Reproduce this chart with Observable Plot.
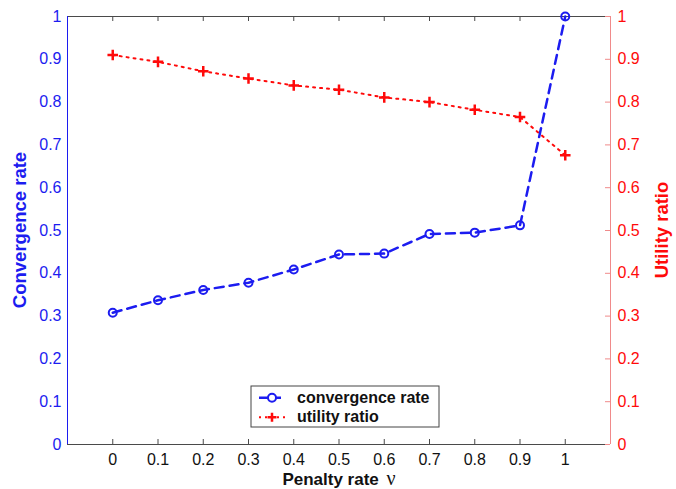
<!DOCTYPE html>
<html><head><meta charset="utf-8">
<script src="https://cdn.jsdelivr.net/npm/d3@7"></script>
<script src="https://cdn.jsdelivr.net/npm/@observablehq/plot@0.6"></script>
<style>body{margin:0;background:#fff;} #chart{width:676px;height:489px;}</style>
</head><body><div id="chart"></div>
<script>
const penalty = [0, 0.1, 0.2, 0.3, 0.4, 0.5, 0.6, 0.7, 0.8, 0.9, 1];
const convergence = [0.308, 0.337, 0.361, 0.378, 0.409, 0.444, 0.446, 0.492, 0.495, 0.512, 1.0];
const utility = [0.910, 0.894, 0.872, 0.855, 0.839, 0.829, 0.811, 0.800, 0.782, 0.765, 0.676];
const xTicks = [0, 0.1, 0.2, 0.3, 0.4, 0.5, 0.6, 0.7, 0.8, 0.9, 1];
const yTicks = [0, 0.1, 0.2, 0.3, 0.4, 0.5, 0.6, 0.7, 0.8, 0.9, 1];
const seriesNames = ["convergence rate", "utility ratio"];
const xLabel = "Penalty rate ";
const xLabelSymbol = "ν";
const yLeftLabel = "Convergence rate";
const yRightLabel = "Utility ratio";

const BLUE = "#1c1cf0", RED = "#ff0a0a", PINK = "#f08a8a", GRAY = "#4a4a4a";
const W = 676, H = 489, mL = 67, mR = 66, mT = 16, mB = 45;
const xDom = [-0.1, 1.1], yDom = [0, 1];
const tickPx = 5;
const tx = tickPx / (H - mT - mB) * (yDom[1] - yDom[0]);
const ty = tickPx / (W - mL - mR) * (xDom[1] - xDom[0]);

const conv = penalty.map((p, i) => ({p, v: convergence[i]}));
const util = penalty.map((p, i) => ({p, v: utility[i]}));
const fmt = d => String(d);
const font = "'Liberation Sans', Arial, sans-serif";

const plot = Plot.plot({
  width: W, height: H, marginLeft: mL, marginRight: mR, marginTop: mT, marginBottom: mB,
  style: {fontFamily: font, fontSize: "16px", background: "#fff", overflow: "visible"},
  x: {domain: xDom, axis: null},
  y: {domain: yDom, axis: null},
  marks: [
    Plot.ruleY([yDom[1]], {stroke: GRAY}),
    Plot.ruleY([yDom[0]], {stroke: GRAY}),
    Plot.ruleX([xDom[0]], {stroke: BLUE}),
    Plot.ruleX([xDom[1]], {stroke: PINK}),
    Plot.ruleX(xTicks, {x: d => d, y1: yDom[0], y2: yDom[0] + tx, stroke: GRAY}),
    Plot.ruleX(xTicks, {x: d => d, y1: yDom[1] - tx, y2: yDom[1], stroke: GRAY}),
    Plot.ruleY(yTicks, {y: d => d, x1: xDom[1] - ty, x2: xDom[1], stroke: PINK}),
    Plot.axisX({ticks: xTicks, tickSize: 0, tickPadding: 9, tickFormat: fmt, fontSize: 16, color: "#111", label: null}),
    Plot.axisY({anchor: "left", ticks: yTicks, tickSize: 0, tickPadding: 6, tickFormat: fmt, fontSize: 16, color: BLUE, label: null}),
    Plot.axisY({anchor: "right", ticks: yTicks, tickSize: 0, tickPadding: 7, tickFormat: fmt, fontSize: 16, color: RED, label: null}),
    Plot.line(util, {x: "p", y: "v", stroke: RED, strokeWidth: 2, strokeDasharray: "2,5"}),
    Plot.dot(util, {x: "p", y: "v", symbol: "plus", r: 3.5, stroke: RED, strokeWidth: 2.5}),
    Plot.line(conv, {x: "p", y: "v", stroke: BLUE, strokeWidth: 2.5, strokeDasharray: "9,6"}),
    Plot.dot(conv, {x: "p", y: "v", r: 4, stroke: BLUE, strokeWidth: 2, fill: "none"})
  ]
});
document.getElementById("chart").appendChild(plot);

const svg = d3.select(plot);
// axis titles
const xt = svg.append("text").attr("x", 339).attr("y", 485).attr("text-anchor", "middle")
  .attr("font-family", font).attr("font-weight", "bold").attr("font-size", 17).attr("fill", "#111");
xt.append("tspan").text(xLabel);
xt.append("tspan").attr("dx", 3).attr("font-family", "'Liberation Serif', 'Times New Roman', serif").attr("font-weight", "normal").attr("font-size", 20).text(xLabelSymbol);
svg.append("text").attr("transform", "translate(26,230) rotate(-90)").attr("text-anchor", "middle")
  .attr("font-family", font).attr("font-weight", "bold").attr("font-size", 18.5).attr("fill", BLUE).text(yLeftLabel);
svg.append("text").attr("transform", "translate(668,230) rotate(-90)").attr("text-anchor", "middle")
  .attr("font-family", font).attr("font-weight", "bold").attr("font-size", 18.5).attr("fill", RED).text(yRightLabel);

// legend
const lg = svg.append("g").attr("transform", "translate(251,386)");
lg.append("rect").attr("width", 188).attr("height", 41).attr("fill", "#fff").attr("stroke", "#444").attr("stroke-width", 1);
const rows = [
  {name: seriesNames[0], color: BLUE, dash: "9,4", w: 2.5, y: 11.7, ty: 17},
  {name: seriesNames[1], color: RED, dash: "2,4", w: 2, y: 31.3, ty: 36}
];
rows.forEach(r => {
  lg.append("line").attr("x1", 8).attr("x2", 34).attr("y1", r.y).attr("y2", r.y)
    .attr("stroke", r.color).attr("stroke-width", r.w).attr("stroke-dasharray", r.dash);
  lg.append("text").attr("x", 46).attr("y", r.ty).attr("text-anchor", "start").attr("font-family", font).attr("font-weight", "bold")
    .attr("font-size", 16).attr("fill", "#111").text(r.name);
});
lg.append("circle").attr("cx", 21).attr("cy", 11.7).attr("r", 4).attr("fill", "#fff").attr("stroke", BLUE).attr("stroke-width", 2);
lg.append("path").attr("d", "M16.5,31.3H25.5M21,26.8V35.8").attr("stroke", RED).attr("stroke-width", 2.5);
</script></body></html>
